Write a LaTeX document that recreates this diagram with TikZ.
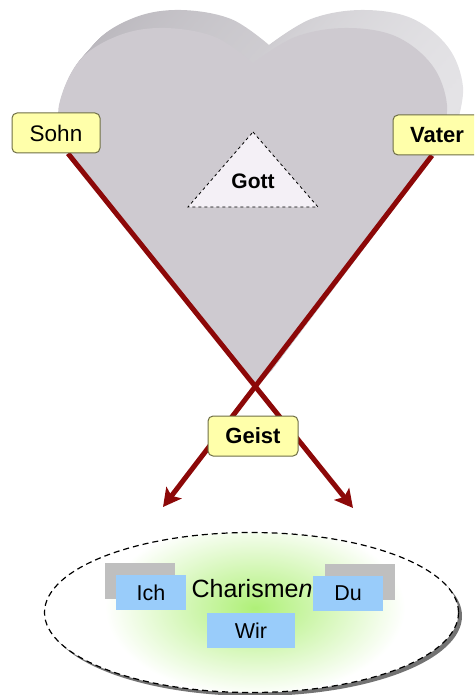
\documentclass[tikz,border=0pt]{standalone}
\usepackage{fontspec}
\setmainfont{Liberation Sans}
\usetikzlibrary{arrows.meta,backgrounds}

\definecolor{tagfill}{RGB}{255,255,170}
\definecolor{tagline}{RGB}{110,110,70}
\definecolor{heartface}{RGB}{206,202,208}
\definecolor{heartdark}{RGB}{184,181,187}
\definecolor{heartlight}{RGB}{228,227,230}
\definecolor{gottfill}{RGB}{244,240,246}
\definecolor{spirit}{RGB}{140,8,8}
\definecolor{gaben}{RGB}{153,204,250}
\definecolor{glow}{RGB}{175,240,120}

\newcommand\heartpath{(256,388) -- plot[smooth,tension=0.6] coordinates {(62,145) (59,105) (80,60) (120,35) (165,28) (215,37) (253,63)} -- plot[smooth,tension=0.6] coordinates {(253,63) (295,37) (345,28) (395,36) (432,65) (447,105) (440,145)} -- cycle}

\begin{document}
\begin{tikzpicture}[x=1pt,y=-1pt,
    tag/.style={draw=tagline,fill=tagfill,line width=1pt,rounded corners=5pt,
      minimum width=88pt,minimum height=40pt,inner sep=0pt,font=\fontsize{22.5}{26}\selectfont},
    boldtag/.style={tag,font=\fontsize{22}{26}\selectfont\bfseries},
    gabe/.style={fill=gaben,minimum width=70pt,minimum height=35pt,inner sep=0pt,
      font=\fontsize{21.5}{25}\selectfont},
    gabeback/.style={fill=black!25,minimum width=70pt,minimum height=36pt,inner sep=0pt},
    ray/.style={draw=spirit,line width=5pt,-{Stealth[length=18pt,width=19pt,inset=4pt]}}]
  \path[use as bounding box,clip] (0,0) rectangle (474,695);
  % Herz
  \begin{scope}[on background layer]
    \foreach \k in {20,...,1}
      \shade[left color=heartdark,right color=heartlight,shift={(0.8*\k,-0.9*\k)}] \heartpath;
    \fill[heartface] \heartpath;
  \end{scope}
  % Gott
  \draw[dashed,line width=0.8pt,fill=gottfill] (253,132) -- (318,207) -- (188,207) -- cycle;
  \node[font=\fontsize{21}{25}\selectfont\bfseries] (gott) at (253,181) {Gott};
  % Personen
  \node[tag] (sohn) at (56,133) {Sohn};
  \node[boldtag] (vater) at (437,135) {Vater};
  \node[boldtag,minimum width=90pt] (geist) at (253,436) {Geist};
  \coordinate (linksunten) at (163,507);
  \coordinate (rechtsunten) at (353,508);
  \begin{scope}[on background layer]
    \draw[ray] ([xshift=12pt]sohn.south) -- (rechtsunten);
    \draw[ray] ([xshift=-5pt]vater.south) -- (linksunten);
  \end{scope}
  % Gemeinde
  \fill[black!55] (255,616) ellipse [x radius=207,y radius=80];
  \fill[white] (251.5,612.5) ellipse [x radius=207,y radius=80];
  \begin{scope}
    \clip (251.5,612.5) ellipse [x radius=207,y radius=80];
    \shade[inner color=glow,outer color=white] (255,608) ellipse [x radius=150,y radius=88];
  \end{scope}
  \draw[line width=1.2pt,dash pattern=on 6pt off 4pt] (251.5,612.5) ellipse [x radius=207,y radius=80];
  \node[gabeback] (ichhinten) at (140,580.5) {};
  \node[gabeback] (duhinten) at (360,581.5) {};
  \node[gabe] (ich) at (151,592.5) {Ich};
  \node[gabe] (du) at (348,593.5) {Du};
  \node[gabe,minimum width=88pt] (wir) at (251,630.5) {Wir};
  \node[font=\fontsize{25}{29}\selectfont,anchor=base,inner sep=0pt] (charismen) at (252,597) {Charisme\textit{n}};
\end{tikzpicture}
\end{document}
